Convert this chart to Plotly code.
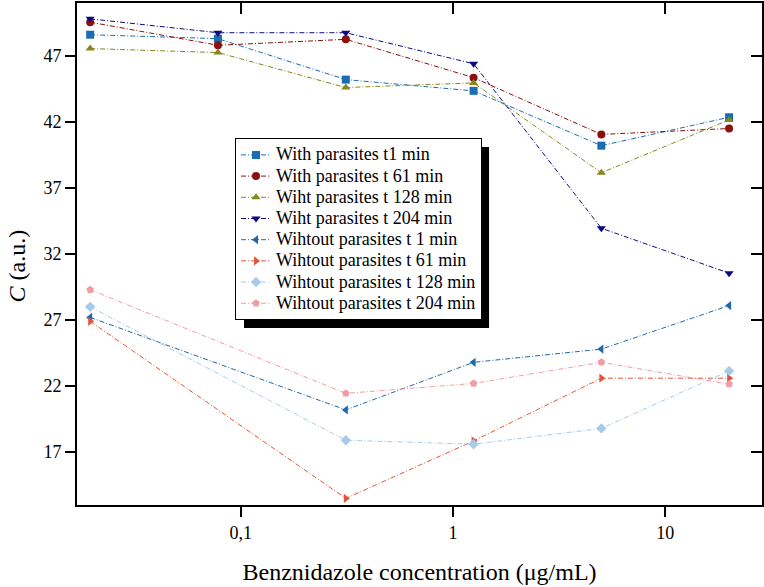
import plotly.graph_objects as go

# concentrations (ug/mL)
conc_with = [0.0195, 0.078, 0.3125, 1.25, 5, 20]
conc_without = [0.0195, 0.3125, 1.25, 5, 20]

# C (a.u.)
with_t1 = [48.6, 48.3, 45.2, 44.35, 40.2, 42.35]
with_t61 = [49.55, 47.8, 48.25, 45.35, 41.05, 41.5]
with_t128 = [47.55, 47.25, 44.6, 44.95, 38.15, 42.15]
with_t204 = [49.8, 48.75, 48.75, 46.4, 33.95, 30.55]
without_t1 = [27.2, 20.2, 23.8, 24.8, 28.1]
without_t61 = [26.9, 13.5, 17.85, 22.6, 22.6]
without_t128 = [28.0, 17.9, 17.6, 18.8, 23.15]
without_t204 = [29.3, 21.45, 22.2, 23.8, 22.15]

names = ["With parasites t1 min", "With parasites t 61 min", "Wiht parasites t 128 min",
         "Wiht parasites t 204 min", "Wihtout parasites t 1 min", "Wihtout parasites t 61 min",
         "Wihtout parasites t 128 min", "Wihtout parasites t 204 min"]
xtick_vals = [0.1, 1, 10]
xtick_text = ["0,1", "1", "10"]
ytick_vals = [17, 22, 27, 32, 37, 42, 47]

series = [
    (conc_with, with_t1, "#1b6db3", "square"),
    (conc_with, with_t61, "#8b1010", "circle"),
    (conc_with, with_t128, "#86861a", "triangle-up"),
    (conc_with, with_t204, "#0a0a80", "triangle-down"),
    (conc_without, without_t1, "#2068ad", "triangle-left"),
    (conc_without, without_t61, "#e2553c", "triangle-right"),
    (conc_without, without_t128, "#a9cbe8", "diamond"),
    (conc_without, without_t204, "#f29ca3", "pentagon"),
]

FONT = "Liberation Serif"

fig = go.Figure()
for (xs, ys, col, sym), nm in zip(series, names):
    # bigger text inside the legend without growing the row height
    fig.add_trace(go.Scatter(x=xs, y=ys, mode="lines+markers",
                             name='<span style="font-size:18px">' + nm + "</span>",
                             line=dict(color=col, width=1, dash="5px,2px,1px,2px"),
                             marker=dict(color=col, symbol=sym, size=8)))

# empty trace so the mirrored axes (top/right, inward ticks) get drawn
fig.add_trace(go.Scatter(x=[], y=[], xaxis="x2", yaxis="y2", showlegend=False))

xr = [-1.772, 1.456]
yr = [13, 51]

fig.update_layout(
    width=764, height=587,
    margin=dict(l=77, r=2, t=3, b=82),
    paper_bgcolor="white", plot_bgcolor="white",
    font=dict(family=FONT, color="black", size=18),
    xaxis=dict(type="log", range=xr, tickvals=xtick_vals, ticktext=xtick_text,
               ticks="outside", ticklen=10, tickwidth=2, tickcolor="black",
               showline=True, linewidth=2, linecolor="black", showgrid=False, zeroline=False,
               tickfont=dict(size=18),
               title=dict(text="Benznidazole concentration (\u03bcg/mL)", font=dict(size=24), standoff=22)),
    yaxis=dict(range=yr, tickvals=ytick_vals, ticks="outside", ticklen=10, tickwidth=2,
               tickcolor="black", showline=True, linewidth=2, linecolor="black",
               showgrid=False, zeroline=False, tickfont=dict(size=18)),
    xaxis2=dict(type="log", range=xr, overlaying="x", side="top", tickvals=xtick_vals,
                ticks="inside", ticklen=11, tickwidth=2, tickcolor="black",
                showticklabels=False, showline=True, linewidth=2, linecolor="black",
                showgrid=False, zeroline=False),
    yaxis2=dict(range=yr, overlaying="y", side="right", tickvals=ytick_vals,
                ticks="inside", ticklen=11, tickwidth=2, tickcolor="black",
                showticklabels=False, showline=True, linewidth=2, linecolor="black",
                showgrid=False, zeroline=False),
    legend=dict(x=0.2307, y=0.7305, xanchor="left", yanchor="top",
                bgcolor="white", bordercolor="black", borderwidth=1,
                font=dict(size=14, family=FONT), itemwidth=30, tracegroupgap=0),
    showlegend=True,
)

# y title placed by hand (sits a bit below the axis centre in the original)
fig.add_annotation(text="<i>C</i> (a.u.)", xref="paper", yref="paper",
                   x=-0.087, y=0.476, xanchor="center", yanchor="middle",
                   textangle=-90, showarrow=False,
                   font=dict(size=24, family=FONT))

# legend drop shadow
fig.add_shape(type="rect", xref="paper", yref="paper",
              x0=0.2438, x1=0.6015, y0=0.3526, y1=0.7131,
              fillcolor="black", line=dict(width=0), layer="above")

fig.write_html("out.html", config={"displayModeBar": False},
               post_script="document.body.style.margin='0';")
